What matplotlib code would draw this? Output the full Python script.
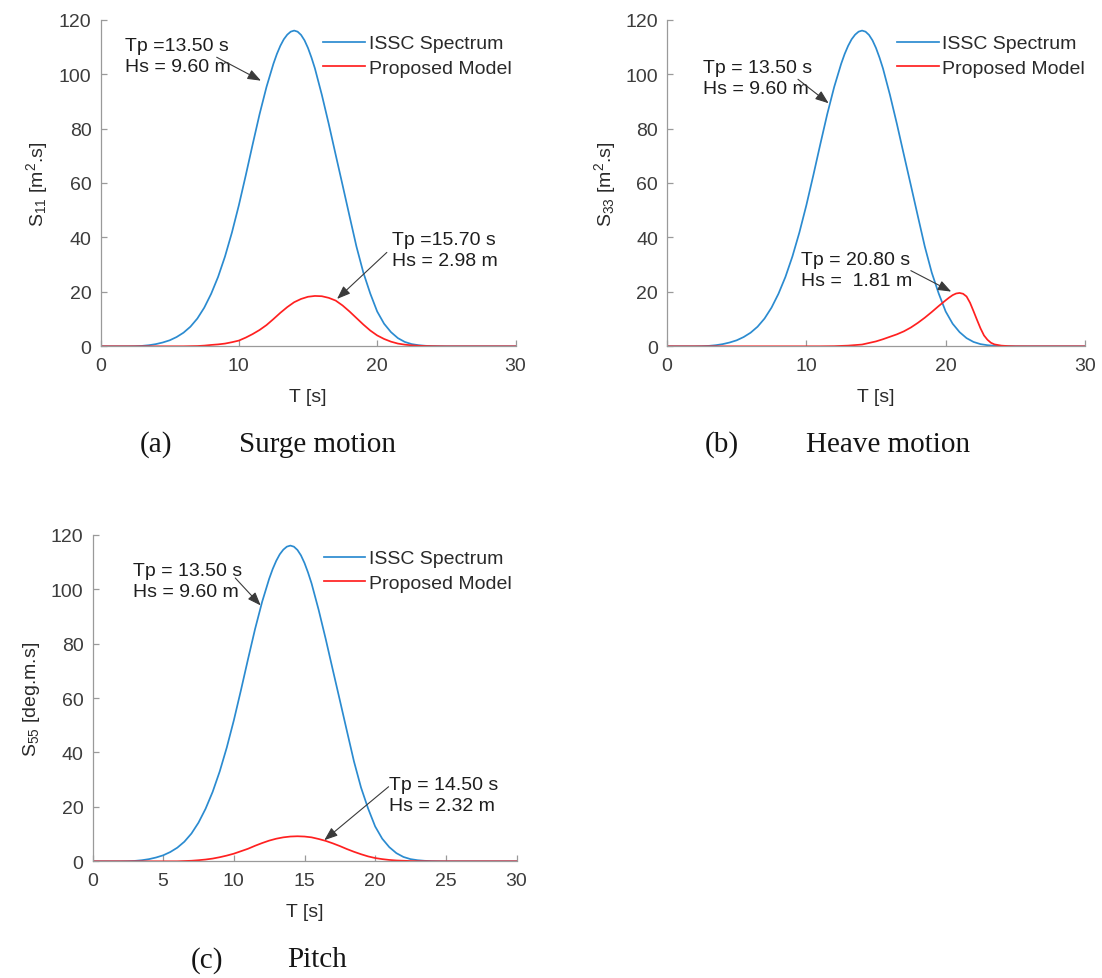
import matplotlib
matplotlib.use('Agg')
import matplotlib.pyplot as plt

plt.rcParams['font.family'] = ['Liberation Sans', 'DejaVu Sans']
plt.rcParams['mathtext.default'] = 'regular'

# ---------------- data ----------------
issc_period = [0, 0.5, 1, 1.5, 2, 2.5, 3, 3.5, 4, 4.5, 5, 5.5, 6, 6.5, 7, 7.5, 8, 8.5, 9, 9.5,
               10, 10.5, 11, 11.5, 12, 12.5, 12.75, 13, 13.25, 13.5, 13.75, 14, 14.25, 14.5,
               14.75, 15, 15.25, 15.5, 16, 16.5, 17, 17.5, 18, 18.5, 19, 19.5, 20, 20.5, 21,
               21.5, 22, 22.5, 23, 23.5, 24, 24.5, 25, 26, 27, 28, 29, 30]
issc = [0, 0, 0, 0, 0.01, 0.05, 0.15, 0.4, 0.8, 1.4, 2.2, 3.4, 5.0, 7.2, 10.2, 14.2, 19.3,
        25.5, 33.0, 41.8, 51.8, 62.8, 74.2, 85.3, 95.3, 103.8, 107.4, 110.4, 112.8, 114.5,
        115.6, 116.0, 115.6, 114.4, 112.4, 109.6, 106.1, 102.1, 92.4, 81.7, 70.4, 59.2, 47.9,
        36.7, 27.1, 19.4, 12.8, 8.3, 5.2, 3.0, 1.6, 0.8, 0.4, 0.18, 0.07, 0.03, 0, 0, 0, 0,
        0, 0]

period = [0, 0.5, 1, 1.5, 2, 2.5, 3, 3.5, 4, 4.5, 5, 5.5, 6, 6.5, 7, 7.5, 8, 8.5, 9, 9.5,
          10, 10.5, 11, 11.5, 12, 12.5, 13, 13.5, 14, 14.5, 15, 15.5, 16, 16.5, 17, 17.5,
          18, 18.5, 19, 19.5, 20, 20.5, 21, 21.5, 22, 22.5, 23, 23.5, 24, 24.5, 25, 25.5,
          26, 26.5, 27, 27.5, 28, 28.5, 29, 29.5, 30]

surge_model = [0, 0, 0, 0, 0, 0, 0, 0, 0, 0, 0, 0, 0, 0.05, 0.1, 0.25, 0.5, 0.7, 1.0, 1.5,
               2.1, 3.2, 4.5, 6.0, 7.8, 10.0, 12.3, 14.4, 16.2, 17.4, 18.2, 18.5, 18.4, 17.8,
               16.8, 15.0, 12.8, 10.4, 8.0, 5.8, 4.0, 2.7, 1.7, 1.0, 0.6, 0.35, 0.2, 0.1, 0.05,
               0.02, 0, 0, 0, 0, 0, 0, 0, 0, 0, 0, 0]

pitch_model = [0, 0, 0, 0, 0, 0, 0, 0, 0, 0, 0, 0, 0, 0.1, 0.2, 0.4, 0.65, 1.0, 1.5, 2.1,
               2.8, 3.7, 4.6, 5.7, 6.7, 7.6, 8.3, 8.8, 9.1, 9.2, 9.1, 8.8, 8.2, 7.5, 6.6, 5.6,
               4.5, 3.5, 2.6, 1.8, 1.2, 0.8, 0.5, 0.3, 0.2, 0.1, 0.05, 0.02, 0, 0, 0, 0, 0, 0,
               0, 0, 0, 0, 0, 0, 0]

heave_period = [0, 1, 2, 3, 4, 5, 6, 7, 8, 9, 10, 11, 12, 13, 14, 15, 15.5, 16, 16.5, 17,
                17.5, 18, 18.5, 19, 19.5, 20, 20.25, 20.5, 20.75, 21, 21.25, 21.5, 21.75, 22,
                22.25, 22.5, 22.75, 23, 23.25, 23.5, 24, 24.5, 25, 26, 27, 28, 29, 30]
heave_model = [0, 0, 0, 0, 0, 0, 0, 0, 0, 0, 0, 0, 0.05, 0.25, 0.65, 1.8, 2.6, 3.5, 4.4, 5.5,
               6.9, 8.6, 10.5, 12.6, 14.8, 16.9, 17.9, 18.8, 19.4, 19.6, 19.3, 18.3, 16.0,
               12.9, 9.7, 6.6, 4.0, 2.4, 1.3, 0.7, 0.25, 0.08, 0.02, 0, 0, 0, 0, 0]

x_ticks_ab = [0, 10, 20, 30]
x_ticks_c = [0, 5, 10, 15, 20, 25, 30]
y_ticks = [0, 20, 40, 60, 80, 100, 120]
legend_labels = ['ISSC Spectrum', 'Proposed Model']

# ---------------- style ----------------
BLUE = '#2b8bd0'
RED = '#ff2020'
AXIS = '#9a9a9a'
TXT = '#2a2a2a'
FS = 14

fig = plt.figure(figsize=(11.02, 9.79), dpi=100)
W, H = 1102.0, 979.0


def make_axes(left, right, top, bottom):
    return fig.add_axes([left / W, 1 - bottom / H, (right - left) / W, (bottom - top) / H])


def style(ax, xticks, ylabel, ylab_x, leg_x):
    ax.set_xlim(0, 30)
    ax.set_ylim(0, 120)
    ax.set_xticks(xticks)
    ax.set_yticks(y_ticks)
    for s in ['top', 'right']:
        ax.spines[s].set_visible(False)
    for s in ['left', 'bottom']:
        ax.spines[s].set_color(AXIS)
        ax.spines[s].set_linewidth(0.9)
    ax.tick_params(direction='in', length=4, width=0.9, color=AXIS,
                   labelcolor='#3c3c3c', labelsize=FS)
    ax.tick_params(axis='x', pad=8)
    ax.tick_params(axis='y', pad=6.5)
    ax.set_xlabel('T [s]', fontsize=FS, color=TXT)
    ax.xaxis.set_label_coords(0.5, -0.129)
    ax.set_ylabel(ylabel, fontsize=FS, color=TXT)
    ax.yaxis.set_label_coords(ylab_x, 0.5)
    ax.legend(legend_labels, loc='upper left', bbox_to_anchor=(leg_x, 0.954),
              frameon=False, borderpad=0, borderaxespad=0, handlelength=2.15,
              handletextpad=0.18, labelspacing=0.37, fontsize=FS, labelcolor=TXT)


def note(ax, text, pos, tail, tip):
    ax.text(pos[0], pos[1], text, ha='left', va='center', fontsize=FS,
            linespacing=1.3, color='#1e1e1e')
    ax.annotate('', xy=tip, xytext=tail,
                arrowprops=dict(arrowstyle='-|>,head_length=0.45,head_width=0.17',
                                color='#3a3a3a', lw=0.8, shrinkA=0, shrinkB=0,
                                mutation_scale=18))


# (a) Surge
ax1 = make_axes(100.5, 515.5, 20.7, 347.3)
ax1.plot(issc_period, issc, color=BLUE, lw=1.25)
ax1.plot(period, surge_model, color=RED, lw=1.25)
style(ax1, x_ticks_ab, 'S$_{11}$ [m$^2$.s]', -0.121, 0.537)
note(ax1, 'Tp =13.50 s\nHs = 9.60 m', (1.75, 106.5), (8.4, 106.2), (11.6, 97.6))
note(ax1, 'Tp =15.70 s\nHs = 2.98 m', (21.1, 35.5), (20.7, 34.5), (17.1, 17.4))

# (b) Heave
ax2 = make_axes(667, 1085, 20.7, 347.3)
ax2.plot(issc_period, issc, color=BLUE, lw=1.25)
ax2.plot(heave_period, heave_model, color=RED, lw=1.25)
style(ax2, x_ticks_ab, 'S$_{33}$ [m$^2$.s]', -0.118, 0.55)
note(ax2, 'Tp = 13.50 s\nHs = 9.60 m', (2.6, 98.5), (9.4, 98.1), (11.6, 89.3))
note(ax2, 'Tp = 20.80 s\nHs =  1.81 m', (9.65, 28.1), (17.5, 27.8), (20.4, 20.1))

# (c) Pitch
ax3 = make_axes(92.5, 516.5, 535.7, 862.3)
ax3.plot(issc_period, issc, color=BLUE, lw=1.25)
ax3.plot(period, pitch_model, color=RED, lw=1.25)
style(ax3, x_ticks_c, 'S$_{55}$ [deg.m.s]', -0.118, 0.545)
note(ax3, 'Tp = 13.50 s\nHs = 9.60 m', (2.85, 103.1), (10.1, 104.1), (11.9, 94.0))
note(ax3, 'Tp = 14.50 s\nHs = 2.32 m', (20.95, 24.4), (20.95, 27.4), (16.4, 7.75))

# captions
cap = dict(family=['Liberation Serif', 'DejaVu Serif'], fontsize=21, color='#151515',
           ha='center', va='baseline')
fig.text(155.8 / W, 1 - 451.7 / H, '(a)', **cap)
fig.text(317.5 / W, 1 - 451.7 / H, 'Surge motion', **cap)
fig.text(722 / W, 1 - 451.7 / H, '(b)', **cap)
fig.text(888 / W, 1 - 451.7 / H, 'Heave motion', **cap)
fig.text(207 / W, 1 - 967.3 / H, '(c)', **cap)
fig.text(316.7 / W, 1 - 967.3 / H, 'Pitch', **cap)

fig.savefig('out.png', dpi=100)
